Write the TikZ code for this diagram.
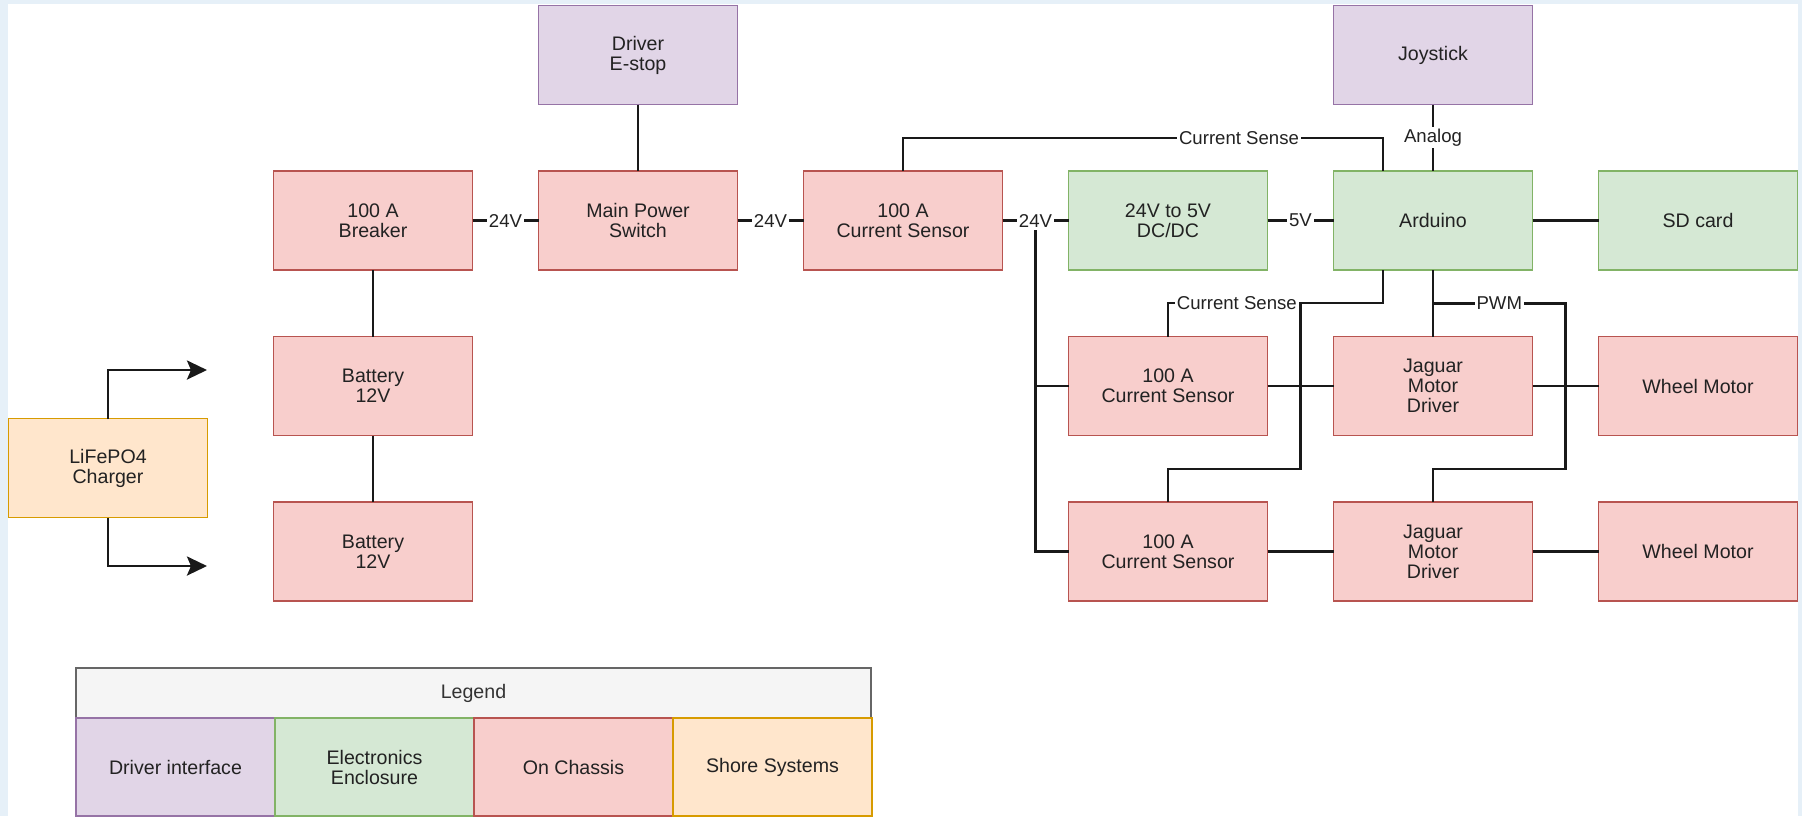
\documentclass[tikz,border=0pt]{standalone}
\usepackage{fontspec}
\setmainfont{Liberation Sans}
\usepackage{xcolor}
\usepackage{tikz}
\usetikzlibrary{arrows.meta, positioning, calc}
\definecolor{bgblue}{RGB}{230,240,248}
\definecolor{drvfill}{HTML}{E1D5E7}
\definecolor{drvline}{HTML}{9673A6}
\definecolor{encfill}{HTML}{D5E8D4}
\definecolor{encline}{HTML}{82B366}
\definecolor{chsfill}{HTML}{F8CECC}
\definecolor{chsline}{HTML}{B85450}
\definecolor{shrfill}{HTML}{FFE6CC}
\definecolor{shrline}{HTML}{D79B00}
\definecolor{txtgray}{HTML}{222222}

\begin{document}
\begin{tikzpicture}[
  x=0.5pt, y=-0.5pt,
  node distance=33.25pt and 33pt,
  box/.style={draw, line width=0.8pt, minimum width=99.5pt, minimum height=49.5pt,
              outer sep=0pt, align=center, inner sep=2pt, text=txtgray,
              font=\fontsize{9.8}{10}\selectfont},
  chassis/.style={box, fill=chsfill, draw=chsline},
  encl/.style={box, fill=encfill, draw=encline},
  drvif/.style={box, fill=drvfill, draw=drvline},
  shore/.style={box, fill=shrfill, draw=shrline},
  wire/.style={line width=1.4pt, color=black!90},
  lbl/.style={fill=white, inner sep=1pt, text=txtgray,
              font=\fontsize{9.3}{10}\selectfont},
  chg/.style={wire, -{Stealth[length=10pt, width=9.5pt, inset=2pt]}}
]
  \useasboundingbox (0,0) rectangle (1802,816);
  \fill[bgblue] (0,0) rectangle (1802,816);
  \fill[white] (8,4) rectangle (1798,816);

  \node[chassis] (breaker) at (373,220.5) {100 A\\Breaker};
  \node[chassis, right=of breaker] (mainsw) {Main Power\\Switch};
  \node[chassis, right=of mainsw]  (cs1) {100 A\\Current Sensor};
  \node[encl, right=of cs1]        (dcdc) {24V to 5V\\DC/DC};
  \node[encl, right=of dcdc]       (arduino) {Arduino};
  \node[encl, right=of arduino]    (sdcard) {SD card};
  \node[drvif, above=of mainsw]    (estop) {Driver\\E-stop};
  \node[drvif, above=of arduino]   (joystick) {Joystick};

  \node[chassis, below=of breaker] (bat1) {Battery\\12V};
  \node[chassis, below=of bat1]    (bat2) {Battery\\12V};
  \node[shore] (charger) at (108,468) {LiFePO4\\Charger};

  \node[chassis, below=of dcdc]    (cs2) {100 A\\Current Sensor};
  \node[chassis, below=of cs2]     (cs3) {100 A\\Current Sensor};
  \node[chassis, below=of arduino] (jag1) {Jaguar\\Motor\\Driver};
  \node[chassis, below=of jag1]    (jag2) {Jaguar\\Motor\\Driver};
  \node[chassis, below=of sdcard]  (wheel1) {Wheel Motor};
  \node[chassis, below=of wheel1]  (wheel2) {Wheel Motor};

  \draw[wire] (estop) -- (mainsw);
  \draw[wire] (breaker) -- node[lbl]{24V} (mainsw);
  \draw[wire] (mainsw) -- node[lbl]{24V} (cs1);
  \draw[wire] (cs1) -- node[lbl] (v24) {24V} (dcdc);
  \draw[wire] (dcdc) -- node[lbl]{5V} (arduino);
  \draw[wire] (arduino) -- (sdcard);
  \draw[wire] (joystick) -- node[lbl]{Analog} (arduino);
  \draw[wire] (breaker) -- (bat1);
  \draw[wire] (bat1) -- (bat2);

  \draw[wire] (cs1.north) -- ++(0,-33) -| node[lbl, pos=0.35]{Current Sense}
              ($(arduino.north)+(-50,0)$);
  \draw[wire] ($(arduino.south)+(-50,0)$) -- ++(0,33) -| node[lbl, pos=0.34]{Current Sense}
              (cs2.north);
  \coordinate (split) at ($(cs2.north east)!0.5!(jag1.north west)+(0,-33)$);
  \draw[wire] (split) |- ($(cs3.north)+(0,-33)$) -- (cs3.north);

  \draw[wire] (arduino) -- (jag1);
  \draw[wire] ($(arduino.south)!0.5!(jag1.north)$) -| node[lbl, pos=0.25]{PWM}
              ($(jag2.north east)!0.5!(wheel2.north west)+(0,-33)$) -| (jag2.north);

  \draw[wire] (v24.south) |- (cs2.west);
  \draw[wire] (v24.south) |- (cs3.west);
  \draw[wire] (cs2) -- (jag1);
  \draw[wire] (jag1) -- (wheel1);
  \draw[wire] (cs3) -- (jag2);
  \draw[wire] (jag2) -- (wheel2);

  \coordinate (chgtop) at (207,370);
  \coordinate (chgbot) at (207,566);
  \draw[chg] (charger.north) |- (chgtop);
  \draw[chg] (charger.south) |- (chgbot);

  \node[box, fill=black!4, draw=black!60, text=black!80, minimum width=397.5pt,
        minimum height=25pt] (legend) at (473.5,693) {Legend};
  \node[drvif, minimum height=49pt] (legdrv) at (175.5,767) {Driver interface};
  \node[encl, minimum height=49pt] (legenc) at (374.5,767) {Electronics\\Enclosure};
  \node[chassis, minimum height=49pt] (legchs) at (573.5,767) {On Chassis};
  \node[shore, minimum height=49pt] (legshr) at (772.5,767) {Shore Systems};
\end{tikzpicture}
\end{document}
